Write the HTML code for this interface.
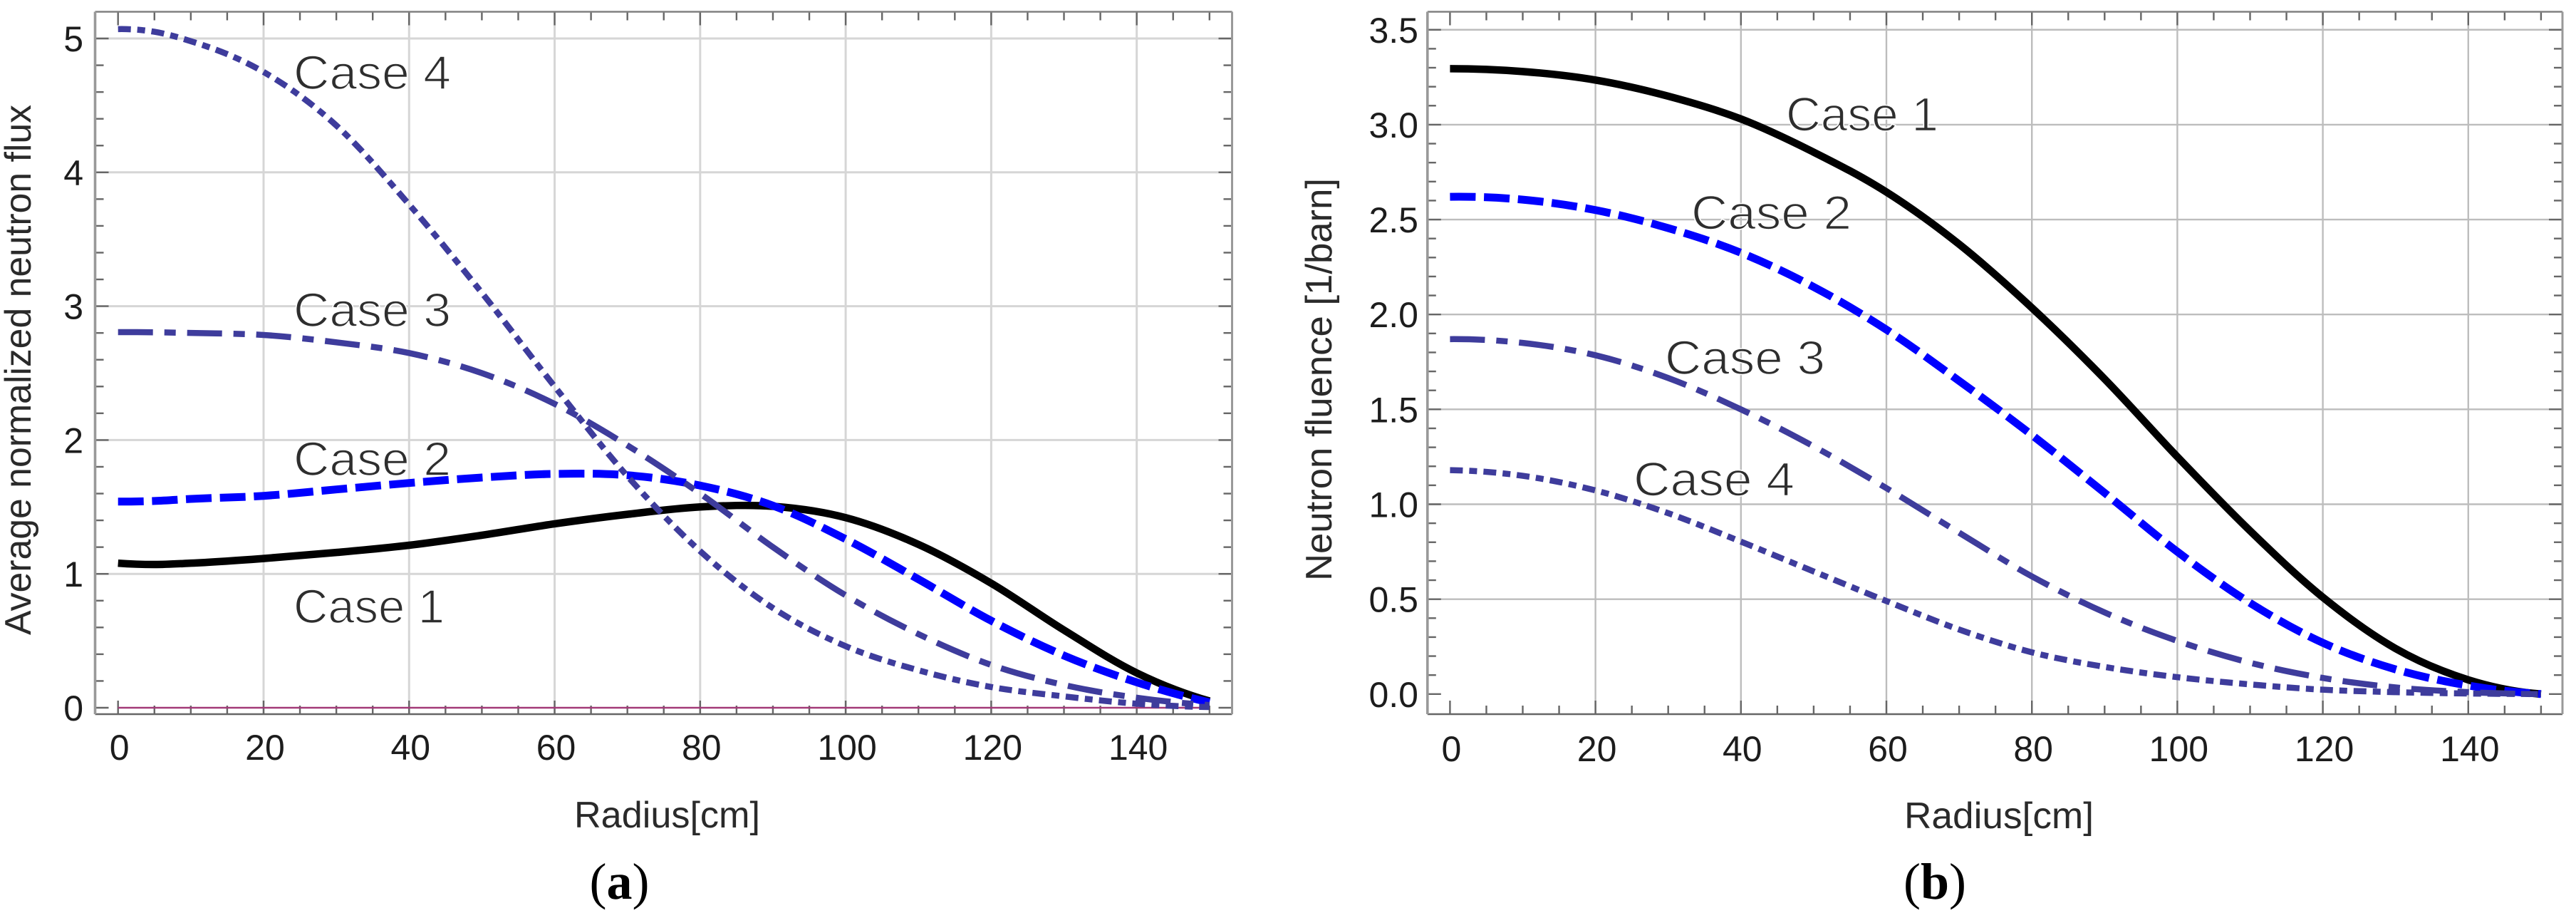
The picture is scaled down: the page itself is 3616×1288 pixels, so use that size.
<!DOCTYPE html>
<html lang="en">
<head>
<meta charset="utf-8">
<title>Neutron flux and fluence versus radius</title>
<style>
  html, body { margin: 0; padding: 0; background: #fff; }
  svg { display: block; }
  text { font-family: "Liberation Sans", sans-serif; }
  .tick-label { font-size: 50px; fill: #1c1c1c; }
  .axis-title { font-size: 52px; fill: #2a2a2a; }
  .case-label { font-size: 67px; fill: #2e2e2e; stroke: #fff; stroke-width: 1.6px; paint-order: normal; }
  .caption { font-family: "Liberation Serif", serif; font-size: 72px; fill: #000; }
</style>
</head>
<body>
<svg id="figure" xmlns="http://www.w3.org/2000/svg" width="3616" height="1288" viewBox="0 0 3616 1288"></svg>
<script>
// Panel (a): average normalized neutron flux
const radiusA = [0, 5, 10, 20, 30, 40, 50, 60, 70, 80, 90, 100, 110, 120, 130, 140, 150];
const fluxCase1 = [1.08, 1.07, 1.08, 1.115, 1.16, 1.214, 1.289, 1.374, 1.445, 1.5, 1.505, 1.42, 1.22, 0.93, 0.58, 0.26, 0.05];
const fluxCase2 = [1.54, 1.545, 1.56, 1.583, 1.631, 1.679, 1.72, 1.747, 1.737, 1.66, 1.51, 1.26, 0.96, 0.65, 0.39, 0.19, 0.04];
const fluxCase3 = [2.806, 2.805, 2.8, 2.785, 2.73, 2.65, 2.5, 2.27, 1.96, 1.6, 1.2, 0.84, 0.55, 0.32, 0.17, 0.075, 0.02];
const fluxCase4 = [5.07, 5.05, 4.98, 4.75, 4.35, 3.76, 3.1, 2.4, 1.73, 1.17, 0.745, 0.46, 0.28, 0.155, 0.085, 0.03, 0.005];
const fluxZeroLine = [0, 0];
const fluxZeroRadius = [0, 150];
const fluxYMajor = [0, 1, 2, 3, 4, 5];
const fluxYMinorStep = 0.2;

// Panel (b): neutron fluence
const radiusB = [0, 10, 20, 30, 40, 50, 60, 70, 80, 90, 100, 110, 120, 130, 140, 150];
const fluenceCase1 = [3.295, 3.28, 3.235, 3.15, 3.03, 2.855, 2.645, 2.37, 2.035, 1.66, 1.25, 0.86, 0.51, 0.24, 0.075, 0];
const fluenceCase2 = [2.62, 2.605, 2.55, 2.455, 2.325, 2.145, 1.92, 1.65, 1.365, 1.06, 0.75, 0.48, 0.27, 0.13, 0.045, 0];
const fluenceCase3 = [1.87, 1.85, 1.785, 1.665, 1.5, 1.305, 1.085, 0.85, 0.62, 0.43, 0.28, 0.165, 0.085, 0.035, 0.01, 0];
const fluenceCase4 = [1.18, 1.15, 1.073, 0.953, 0.803, 0.646, 0.49, 0.34, 0.22, 0.143, 0.089, 0.051, 0.023, 0.01, 0.003, 0];
const fluenceYMajor = [0, 0.5, 1, 1.5, 2, 2.5, 3, 3.5];
const fluenceYMinorStep = 0.1;

const xMajor = [0, 20, 40, 60, 80, 100, 120, 140];
const xMinorStep = 5;
const xMax = 150;

const svg = document.getElementById('figure');
const NS = 'http://www.w3.org/2000/svg';

function make(tag, attrs, parent, text) {
  const el = document.createElementNS(NS, tag);
  for (const k in attrs) el.setAttribute(k, attrs[k]);
  if (text !== undefined) el.textContent = text;
  parent.appendChild(el);
  return el;
}

function smoothPath(xs, ys) {
  const n = xs.length;
  const d0 = [];
  const h0 = [];
  for (let i = 0; i < n - 1; i++) {
    h0.push(xs[i + 1] - xs[i]);
    d0.push((ys[i + 1] - ys[i]) / h0[i]);
  }
  const m = [];
  for (let i = 0; i < n; i++) {
    if (n === 2) { m.push(d0[0]); continue; }
    if (i === 0) {
      m.push(((2 * h0[0] + h0[1]) * d0[0] - h0[0] * d0[1]) / (h0[0] + h0[1]));
    } else if (i === n - 1) {
      const a = h0[n - 2], b = h0[n - 3];
      m.push(((2 * a + b) * d0[n - 2] - a * d0[n - 3]) / (a + b));
    } else {
      m.push((h0[i] * d0[i - 1] + h0[i - 1] * d0[i]) / (h0[i - 1] + h0[i]));
    }
  }
  let d = 'M' + xs[0].toFixed(2) + ' ' + ys[0].toFixed(2);
  for (let i = 0; i < n - 1; i++) {
    const h = (xs[i + 1] - xs[i]) / 3;
    d += ' C' + (xs[i] + h).toFixed(2) + ' ' + (ys[i] + m[i] * h).toFixed(2) +
         ' ' + (xs[i + 1] - h).toFixed(2) + ' ' + (ys[i + 1] - m[i + 1] * h).toFixed(2) +
         ' ' + xs[i + 1].toFixed(2) + ' ' + ys[i + 1].toFixed(2);
  }
  return d;
}

function drawPanel(cfg) {
  const g = make('g', {}, svg);
  
  
  const sx = v => cfg.x0 + v * cfg.xUnit;
  const sy = v => cfg.y0 - v * cfg.yUnit;
  const f = cfg.frame;

  // grid
  const grid = make('g', { stroke: cfg.gridColor, 'stroke-width': cfg.gridWidth, fill: 'none' }, g);
  
  
  xMajor.forEach(v => {
    if (v === 0) return;
    make('line', { x1: sx(v), x2: sx(v), y1: f.top, y2: f.bottom }, grid);
  });
  cfg.yMajor.forEach(v => {
    if (v === 0) return;
    make('line', { x1: f.left, x2: f.right, y1: sy(v), y2: sy(v) }, grid);
  });

  // ticks
  const ticks = make('g', { stroke: '#666', 'stroke-width': 2.4, fill: 'none' }, g);
  
  
  const nx = Math.round(xMax / xMinorStep);
  for (let i = 0; i <= nx; i++) {
    const v = i * xMinorStep;
    const len = xMajor.indexOf(v) >= 0 ? 19 : 12;
    make('line', { x1: sx(v), x2: sx(v), y1: f.bottom, y2: f.bottom - len }, ticks);
    make('line', { x1: sx(v), x2: sx(v), y1: f.top, y2: f.top + len }, ticks);
  }
  const yTop = cfg.yMajor[cfg.yMajor.length - 1];
  const ny = Math.round(yTop / cfg.yMinorStep);
  for (let i = 0; i <= ny; i++) {
    const v = i * cfg.yMinorStep;
    const major = cfg.yMajor.some(m => Math.abs(m - v) < 1e-6);
    const len = major ? 19 : 12;
    make('line', { x1: f.left, x2: f.left + len, y1: sy(v), y2: sy(v) }, ticks);
    make('line', { x1: f.right, x2: f.right - len, y1: sy(v), y2: sy(v) }, ticks);
  }

  // frame
  const frame = make('g', { fill: 'none' }, g);
  
  
  make('line', { x1: f.left, x2: f.right, y1: f.top, y2: f.top, stroke: '#808080', 'stroke-width': 2.4 }, frame);
  make('line', { x1: f.left, x2: f.right, y1: f.bottom, y2: f.bottom, stroke: '#666', 'stroke-width': 2.4 }, frame);
  make('line', { x1: f.left, x2: f.left, y1: f.top, y2: f.bottom, stroke: '#999', 'stroke-width': 3.6 }, frame);
  make('line', { x1: f.right, x2: f.right, y1: f.top, y2: f.bottom, stroke: '#999', 'stroke-width': 3 }, frame);

  // tick labels
  xMajor.forEach(v => {
    const t = make('text', { x: sx(v) + 2, y: cfg.xLabelBaseline, 'text-anchor': 'middle', class: 'tick-label' }, g, String(v));
    
    
  });
  cfg.yMajor.forEach(v => {
    const t = make('text', { x: cfg.yLabelRight, y: sy(v) + 18, 'text-anchor': 'end', class: 'tick-label' }, g, v.toFixed(cfg.yDigits));
    
    
  });

  // reference line at zero
  if (cfg.zero) {
    const zp = make('path', {
      d: smoothPath(cfg.zero.x.map(sx), cfg.zero.y.map(sy)),
      fill: 'none', stroke: '#a23a78', 'stroke-width': 2.6
    }, g);
    
    
  }

  // series
  cfg.series.forEach(s => {
    const p = make('path', {
      d: smoothPath(cfg.radius.map(sx), s.values.map(sy)),
      fill: 'none', stroke: s.color, 'stroke-width': s.width,
      'stroke-linecap': 'butt', 'stroke-linejoin': 'round'
    }, g);
    if (s.dash) p.setAttribute('stroke-dasharray', s.dash);
    
    
  });

  // in-plot labels
  cfg.labels.forEach(l => {
    const t = make('text', {
      x: l.x, y: l.y, class: 'case-label',
      textLength: l.w, lengthAdjust: 'spacingAndGlyphs'
    }, g, l.text);
    
    
  });

  // axis titles
  const xt = make('text', {
    x: cfg.xTitle.x, y: cfg.xTitle.y, class: 'axis-title',
    textLength: cfg.xTitle.w, lengthAdjust: 'spacingAndGlyphs'
  }, g, 'Radius[cm]');
  
  

  const yt = make('text', {
    x: 0, y: 0, class: 'axis-title',
    transform: 'translate(' + cfg.yTitle.x + ' ' + cfg.yTitle.y + ') rotate(-90)',
    textLength: cfg.yTitle.w, lengthAdjust: 'spacingAndGlyphs'
  }, g, cfg.yTitle.text);
  
  

  // caption
  const cap = make('text', { x: cfg.caption.x, y: 1261, 'text-anchor': 'middle', class: 'caption' }, g);
  
  
  make('tspan', {}, cap, '(');
  make('tspan', { 'font-weight': 'bold' }, cap, cfg.caption.text);
  make('tspan', {}, cap, ')');
}

const DASH_2 = '36 11.7';
const DASH_3 = '49 16 16 16';
const DASH_4 = '18 9 11 9';
const PURPLE = '#3e3c9c';

drawPanel({
  name: 'panel-a-flux-chart',
  x0: 165.7, xUnit: 10.214, y0: 993, yUnit: 187.8,
  frame: { left: 133.5, right: 1729.5, top: 16.5, bottom: 1002 },
  gridColor: '#d6d6d6', gridWidth: 3,
  yMajor: fluxYMajor, yMinorStep: fluxYMinorStep, yDigits: 0,
  xLabelBaseline: 1066, yLabelRight: 117,
  radius: radiusA,
  zero: { x: fluxZeroRadius, y: fluxZeroLine },
  series: [
    { name: 'flux-case-1-line', values: fluxCase1, color: '#000', width: 10.5 },
    { name: 'flux-case-2-line', values: fluxCase2, color: '#0000ff', width: 11, dash: DASH_2 },
    { name: 'flux-case-3-line', values: fluxCase3, color: PURPLE, width: 8.5, dash: DASH_3 },
    { name: 'flux-case-4-line', values: fluxCase4, color: PURPLE, width: 8.5, dash: DASH_4 }
  ],
  labels: [
    { name: 'flux-case-4-label', text: 'Case 4', x: 412, y: 125, w: 221 },
    { name: 'flux-case-3-label', text: 'Case 3', x: 412, y: 458, w: 221 },
    { name: 'flux-case-2-label', text: 'Case 2', x: 412, y: 667, w: 221 },
    { name: 'flux-case-1-label', text: 'Case 1', x: 412, y: 874, w: 212 }
  ],
  xTitle: { x: 806, y: 1161, w: 261 },
  yTitle: { x: 43, y: 891, w: 744, text: 'Average normalized neutron flux' },
  caption: { x: 869.5, text: 'a' }
});

drawPanel({
  name: 'panel-b-fluence-chart',
  x0: 2035.4, xUnit: 10.21, y0: 973.8, yUnit: 266.3,
  frame: { left: 2003.8, right: 3597, top: 16.5, bottom: 1002 },
  gridColor: '#bdbdbd', gridWidth: 2.4,
  yMajor: fluenceYMajor, yMinorStep: fluenceYMinorStep, yDigits: 1,
  xLabelBaseline: 1068, yLabelRight: 1991,
  radius: radiusB,
  series: [
    { name: 'fluence-case-1-line', values: fluenceCase1, color: '#000', width: 10.5 },
    { name: 'fluence-case-2-line', values: fluenceCase2, color: '#0000ff', width: 11, dash: DASH_2 },
    { name: 'fluence-case-3-line', values: fluenceCase3, color: PURPLE, width: 8.5, dash: DASH_3 },
    { name: 'fluence-case-4-line', values: fluenceCase4, color: PURPLE, width: 8.5, dash: DASH_4 }
  ],
  labels: [
    { name: 'fluence-case-1-label', text: 'Case 1', x: 2507, y: 183.5, w: 214 },
    { name: 'fluence-case-2-label', text: 'Case 2', x: 2374, y: 321.5, w: 225 },
    { name: 'fluence-case-3-label', text: 'Case 3', x: 2337, y: 525, w: 225 },
    { name: 'fluence-case-4-label', text: 'Case 4', x: 2293, y: 695.7, w: 226 }
  ],
  xTitle: { x: 2673, y: 1162, w: 266 },
  yTitle: { x: 1869, y: 815, w: 565, text: 'Neutron fluence [1/barn]' },
  caption: { x: 2716, text: 'b' }
});
</script>
</body>
</html>
